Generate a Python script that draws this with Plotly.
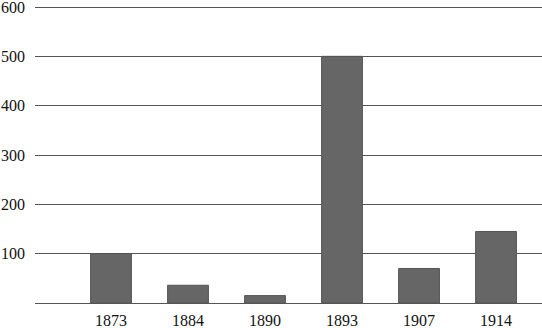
import plotly.graph_objects as go

years = ["1873", "1884", "1890", "1893", "1907", "1914"]
values = [100, 36, 15, 500, 70, 145]
y_ticks = [100, 200, 300, 400, 500, 600]

fig = go.Figure(go.Bar(
    x=years, y=values,
    marker=dict(color="#666666", line=dict(color="#555555", width=1)),
    width=0.53,
))

fig.update_layout(
    width=542, height=328,
    margin=dict(l=35, r=0, t=5, b=25),
    paper_bgcolor="white", plot_bgcolor="white",
    font=dict(family="'Liberation Serif', 'DejaVu Serif', serif", size=16, color="#111111"),
    showlegend=False,
    bargap=0.48,
)
fig.update_xaxes(
    type="category",
    range=[-0.987, 5.597],
    showgrid=False, showline=False, zeroline=False, ticks="",
    tickfont=dict(size=16),
    ticklabelstandoff=6,
    automargin=False,
)
fig.update_yaxes(
    range=[0, 604.05],
    tickvals=y_ticks,
    ticktext=[str(v) for v in y_ticks],
    showgrid=True, gridcolor="#555555", gridwidth=1.3,
    zeroline=True, zerolinecolor="#555555", zerolinewidth=1.3,
    showline=False, ticks="",
    ticklabelstandoff=9,
    ticklabeloverflow="allow",
    tickfont=dict(size=16),
    automargin=False,
)

fig.write_html("out.html")
